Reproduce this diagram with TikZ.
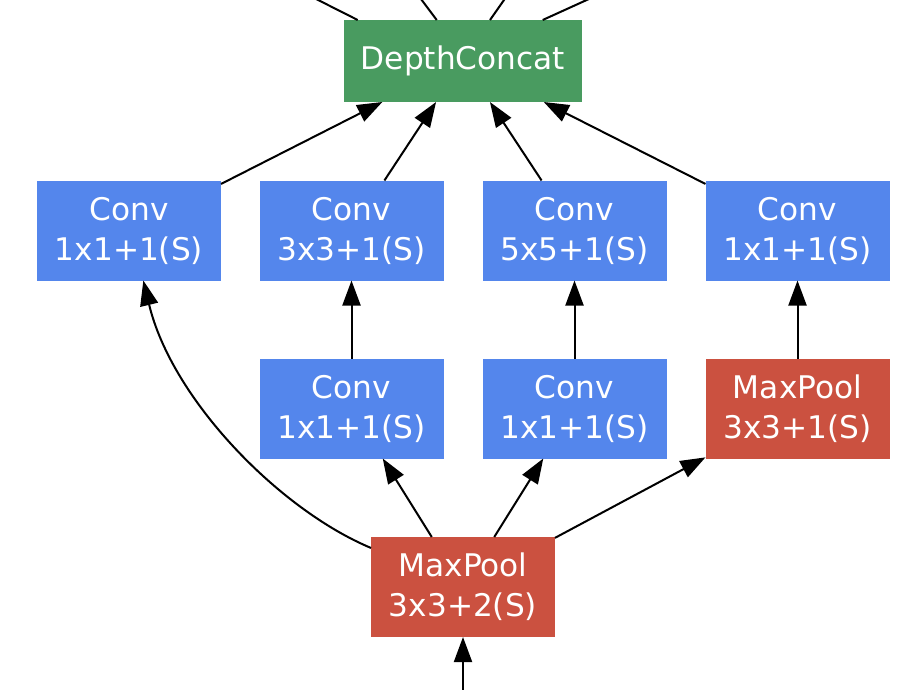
\documentclass[tikz,border=0pt]{standalone}
\usepackage{fontspec}
\setmainfont{DejaVu Sans}
\usetikzlibrary{arrows.meta}
\definecolor{convblue}{RGB}{84,134,236}
\definecolor{poolred}{RGB}{203,81,64}
\definecolor{catgreen}{RGB}{73,155,96}
\tikzset{
  box/.style={rectangle, inner sep=0pt, outer sep=0pt, minimum width=184pt, minimum height=100pt,
    text=white, align=center, font=\fontsize{31.2pt}{40pt}\selectfont},
  convbox/.style={box, fill=convblue},
  poolbox/.style={box, fill=poolred},
  catbox/.style={box, fill=catgreen, minimum width=238pt, minimum height=82pt},
  edge/.style={line width=2pt, -{Triangle[length=25pt,width=18pt]}},
  plainedge/.style={line width=2pt}
}
\begin{document}
\begin{tikzpicture}[x=1pt,y=-1pt]
\useasboundingbox (0,0) rectangle (918,690);
\clip (0,0) rectangle (918,690);
\node[catbox] (dc) at (463,61) {DepthConcat};
\node[convbox] (c1) at (129,230.5) {Conv\\1x1+1(S)};
\node[convbox] (c2) at (351.5,230.5) {Conv\\3x3+1(S)};
\node[convbox] (c3) at (574.5,230.5) {Conv\\5x5+1(S)};
\node[convbox] (c4) at (797.5,230.5) {Conv\\1x1+1(S)};
\node[convbox] (r2) at (351.5,408.5) {Conv\\1x1+1(S)};
\node[convbox] (r3) at (574.5,408.5) {Conv\\1x1+1(S)};
\node[poolbox] (p3) at (797.5,408.5) {MaxPool\\3x3+1(S)};
\node[poolbox] (mp) at (463,587) {MaxPool\\3x3+2(S)};
\coordinate (t1) at (278.5,-20);
\coordinate (t2) at (406.7,-20);
\coordinate (t3) at (518,-20);
\coordinate (t4) at (630.7,-20);
\coordinate (in) at (463,710);
\draw[plainedge] ([xshift=13.7pt]dc.north west) -- (t1);
\draw[plainedge] ([xshift=92.7pt]dc.north west) -- (t2);
\draw[plainedge] ([xshift=146pt]dc.north west) -- (t3);
\draw[plainedge] ([xshift=198.7pt]dc.north west) -- (t4);
\draw[edge] (c1) -- (dc);
\draw[edge] (c2) -- (dc);
\draw[edge] (c3) -- (dc);
\draw[edge] (c4) -- (dc);
\draw[edge] (r2) -- (c2);
\draw[edge] (r3) -- (c3);
\draw[edge] (p3) -- (c4);
\draw[edge] (mp) -- (r2);
\draw[edge] (mp) -- (r3);
\draw[edge] (mp) -- (p3);
\draw[edge] (mp.157) .. controls (280,510) and (172,400) .. (c1.286);
\draw[edge] (in) -- (mp);
\end{tikzpicture}
\end{document}
